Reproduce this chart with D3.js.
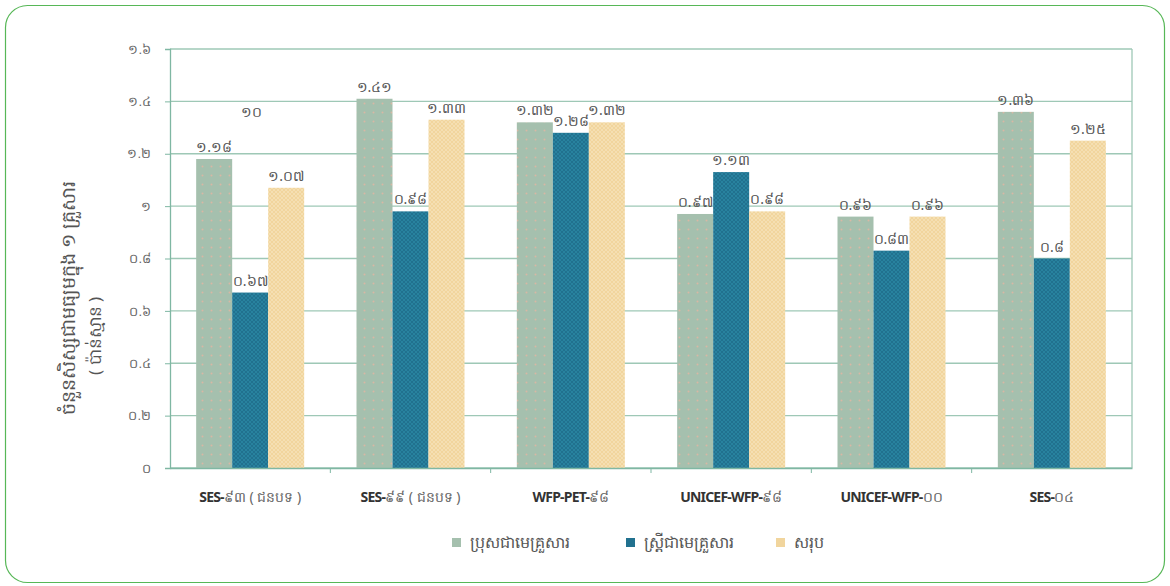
<!DOCTYPE html>
<html lang="km">
<head>
<meta charset="utf-8">
<title>chart</title>
<style>
 body { margin: 0; background: #fff; }
 svg { font-family: "Noto Sans", "DejaVu Sans", sans-serif; }
 .tick text { fill: #666; font-size: 13px; }
</style>
</head>
<body>
<div id="chart"></div>
<script src="https://d3js.org/d3.v7.min.js"></script>
<script>
var km = function(s) { return String(s).replace(/[0-9]/g, function(d) { return "០១២៣៤៥៦៧៨៩"[+d]; }); };

var groups = ["g1", "g2", "g3", "g4", "g5", "g6"];
var groupLabels = [["SES-", "៩៣ ( ជនបទ )"], ["SES-", "៩៩ ( ជនបទ )"], ["WFP-PET-", "៩៨"],
                   ["UNICEF-WFP-", "៩៨"], ["UNICEF-WFP-", "០០"], ["SES-", "០៤"]];
var seriesNames = ["ប្រុសជាមេគ្រួសារ", "ស្ត្រីជាមេគ្រួសារ", "សរុប"];
var maleHead   = [1.18, 1.41, 1.32, 0.97, 0.96, 1.36];
var femaleHead = [0.67, 0.98, 1.28, 1.13, 0.83, 0.80];
var total      = [1.07, 1.33, 1.32, 0.98, 0.96, 1.25];
var valueLabels = [
  ["1.18", "1.41", "1.32", "0.97", "0.96", "1.36"],
  ["0.67", "0.98", "1.28", "1.13", "0.83", "0.8"],
  ["1.07", "1.33", "1.32", "0.98", "0.96", "1.25"]
];
var yTicks = [0, 0.2, 0.4, 0.6, 0.8, 1, 1.2, 1.4, 1.6];
var series = [maleHead, femaleHead, total];
var colors = ["#a5c0ae", "#21718f", "#f1d59d"];

var W = 1170, H = 586,
    margin = {top: 49, right: 38, bottom: 118, left: 170};

var svg = d3.select("#chart").append("svg").attr("width", W).attr("height", H);

// patterns for the textured bars
var defs = svg.append("defs");
var p0 = defs.append("pattern").attr("id", "pat0").attr("width", 9).attr("height", 9).attr("patternUnits", "userSpaceOnUse");
p0.append("rect").attr("width", 9).attr("height", 9).attr("fill", colors[0]);
p0.append("circle").attr("cx", 4.5).attr("cy", 4.5).attr("r", 1).attr("fill", "#d8b8a4");
var p1 = defs.append("pattern").attr("id", "pat1").attr("width", 4).attr("height", 4).attr("patternUnits", "userSpaceOnUse");
p1.append("rect").attr("width", 4).attr("height", 4).attr("fill", colors[1]);
p1.append("path").attr("d", "M0,0L4,4M4,0L0,4").attr("stroke", "#2a86a3").attr("stroke-width", 0.8);
var p2 = defs.append("pattern").attr("id", "pat2").attr("width", 4).attr("height", 4).attr("patternUnits", "userSpaceOnUse");
p2.append("rect").attr("width", 4).attr("height", 4).attr("fill", colors[2]);
p2.append("path").attr("d", "M0,0L4,4M4,0L0,4").attr("stroke", "#f6e2b8").attr("stroke-width", 0.8);

// outer frame
svg.append("rect").attr("x", 5.5).attr("y", 5.5).attr("width", W - 11).attr("height", H - 9)
   .attr("rx", 22).attr("fill", "none").attr("stroke", "#57b757").attr("stroke-width", 1.2);

var x0 = d3.scaleBand().domain(groups).range([margin.left, W - margin.right]);
var x1 = d3.scaleBand().domain([0, 1, 2]).range([0, 108]);
var y = d3.scaleLinear().domain([0, 1.6]).range([H - margin.bottom, margin.top]);

// grid
svg.append("g").selectAll("line").data(yTicks).join("line")
   .attr("x1", margin.left).attr("x2", W - margin.right)
   .attr("y1", function(d) { return y(d); }).attr("y2", function(d) { return y(d); })
   .attr("stroke", "#9ec8b6").attr("stroke-width", 1.3);
svg.append("line").attr("x1", W - margin.right).attr("x2", W - margin.right)
   .attr("y1", y(1.6)).attr("y2", y(0)).attr("stroke", "#9ec8b6").attr("stroke-width", 1.3);

// bars
var gap = (x0.bandwidth() - 108) / 2;
series.forEach(function(vals, s) {
  svg.append("g").selectAll("rect").data(vals).join("rect")
     .attr("x", function(d, i) { return x0(groups[i]) + gap + x1(s); })
     .attr("y", function(d) { return y(d); })
     .attr("width", x1.bandwidth())
     .attr("height", function(d) { return y(0) - y(d); })
     .attr("fill", "url(#pat" + s + ")");
  svg.append("g").selectAll("text").data(vals).join("text")
     .attr("x", function(d, i) { return x0(groups[i]) + gap + x1(s) + x1.bandwidth() / 2; })
     .attr("y", function(d) { return y(d) - 7; })
     .attr("text-anchor", "middle")
     .attr("font-size", 14).attr("fill", "#555")
     .text(function(d, i) { return km(valueLabels[s][i]); });
});

// stray label in the first group
svg.append("text").attr("x", x0("g1") + 81).attr("y", y(1.34)).attr("text-anchor", "middle")
   .attr("font-size", 14).attr("fill", "#555").text(km("10"));

// y axis
var yAxis = svg.append("g").attr("transform", "translate(" + margin.left + ",0)")
   .call(d3.axisLeft(y).tickValues(yTicks).tickSize(5).tickPadding(14).tickFormat(function(d) { return km(d); }));
yAxis.select(".domain").attr("stroke", "#7fb7a3").attr("stroke-width", 1.3);
yAxis.selectAll(".tick line").attr("stroke", "#7fb7a3");

// x axis
var xAxis = svg.append("g").attr("transform", "translate(0," + y(0) + ")")
   .call(d3.axisBottom(x0).tickSize(0).tickFormat(""));
xAxis.select(".domain").attr("stroke", "#7fb7a3").attr("stroke-width", 1.3);
svg.append("g").selectAll("line").data(groups.slice(1)).join("line")
   .attr("x1", function(d) { return x0(d); }).attr("x2", function(d) { return x0(d); })
   .attr("y1", y(0)).attr("y2", y(0) + 5).attr("stroke", "#7fb7a3");

var xl = svg.append("g").selectAll("text").data(groups).join("text")
   .attr("x", function(d) { return x0(d) + x0.bandwidth() / 2; })
   .attr("y", y(0) + 34).attr("text-anchor", "middle").attr("font-size", 14).attr("fill", "#333");
xl.append("tspan").attr("font-weight", "bold").attr("letter-spacing", -0.8)
  .text(function(d, i) { return groupLabels[i][0]; });
xl.append("tspan").attr("fill", "#666").text(function(d, i) { return groupLabels[i][1]; });

// y title
svg.append("text").attr("transform", "translate(75,298) rotate(-90)").attr("text-anchor", "middle")
   .attr("font-size", 19).attr("fill", "#555").text("ចំនួនសិស្សជាមធ្យមក្នុង ១ គ្រួសារ");
svg.append("text").attr("transform", "translate(101,336) rotate(-90)").attr("text-anchor", "middle")
   .attr("font-size", 17).attr("fill", "#555").text("( ប៉ាន់ស្មាន )");

// legend
var legX = [452, 626, 776];
var leg = svg.append("g").selectAll("g").data(seriesNames).join("g")
   .attr("transform", function(d, i) { return "translate(" + legX[i] + ",543)"; });
leg.append("rect").attr("x", 0).attr("y", -5).attr("width", 9).attr("height", 9)
   .attr("fill", function(d, i) { return colors[i]; });
leg.append("text").attr("x", 18).attr("y", 5).attr("font-size", 16).attr("fill", "#555")
   .text(function(d) { return d; });
</script>
</body>
</html>
